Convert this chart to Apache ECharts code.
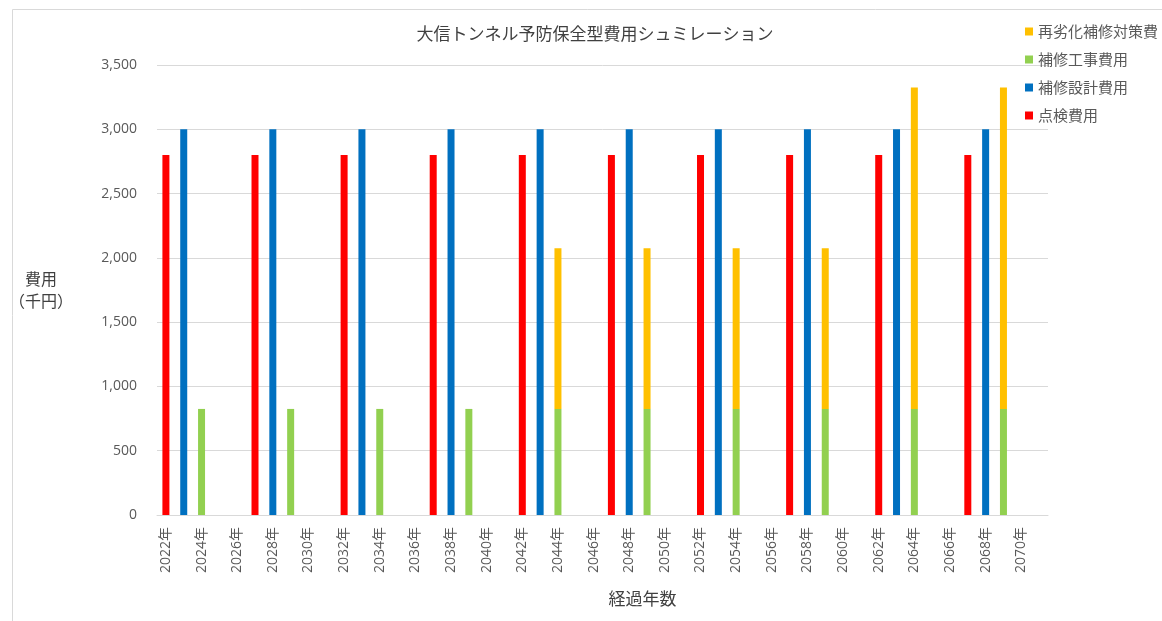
<!DOCTYPE html>
<html>
<head>
<meta charset="utf-8">
<script src="https://cdn.jsdelivr.net/npm/echarts@6/dist/echarts.min.js"></script>
<style>
html,body{margin:0;padding:0;background:#fff;}
#main{width:1162px;height:621px;}
</style>
</head>
<body>
<div id="main"></div>
<script>
const years = ['2022年','2023年','2024年','2025年','2026年','2027年','2028年','2029年','2030年','2031年',
  '2032年','2033年','2034年','2035年','2036年','2037年','2038年','2039年','2040年','2041年',
  '2042年','2043年','2044年','2045年','2046年','2047年','2048年','2049年','2050年','2051年',
  '2052年','2053年','2054年','2055年','2056年','2057年','2058年','2059年','2060年','2061年',
  '2062年','2063年','2064年','2065年','2066年','2067年','2068年','2069年','2070年','2071年'];

// 点検費用
const inspection = [2800,null,null,null,null,2800,null,null,null,null,
  2800,null,null,null,null,2800,null,null,null,null,
  2800,null,null,null,null,2800,null,null,null,null,
  2800,null,null,null,null,2800,null,null,null,null,
  2800,null,null,null,null,2800,null,null,null,null];
// 補修設計費用
const design = [null,3000,null,null,null,null,3000,null,null,null,
  null,3000,null,null,null,null,3000,null,null,null,
  null,3000,null,null,null,null,3000,null,null,null,
  null,3000,null,null,null,null,3000,null,null,null,
  null,3000,null,null,null,null,3000,null,null,null];
// 補修工事費用
const repair = [null,null,825,null,null,null,null,825,null,null,
  null,null,825,null,null,null,null,825,null,null,
  null,null,825,null,null,null,null,825,null,null,
  null,null,825,null,null,null,null,825,null,null,
  null,null,825,null,null,null,null,825,null,null];
// 再劣化補修対策費
const reRepair = [null,null,null,null,null,null,null,null,null,null,
  null,null,null,null,null,null,null,null,null,null,
  null,null,1250,null,null,null,null,1250,null,null,
  null,null,1250,null,null,null,null,1250,null,null,
  null,null,2500,null,null,null,null,2500,null,null];

const yTicks = {min:0, max:3500, interval:500};

const chart = echarts.init(document.getElementById('main'));
const txt = '#595959';
const sans = '"Open Sans","Noto Sans CJK JP",sans-serif';
const jp = '"Noto Sans CJK JP",sans-serif';

chart.setOption({
  animation:false,
  backgroundColor:'#fff',
  graphic:[{
    type:'rect', left:10, top:7, silent:true,
    shape:{x:0.5,y:0.5,width:1200,height:612},
    style:{fill:'none', stroke:'#d9d9d9', lineWidth:1}
  }],
  title:{
    text:'大信トンネル予防保全型費用シュミレーション',
    left:590, top:20, textAlign:'center',
    textStyle:{fontFamily:jp, fontSize:17, fontWeight:'normal', color:'#404040'}
  },
  legend:{
    orient:'vertical', left:1020, top:18,
    itemWidth:8, itemHeight:8, itemGap:11, icon:'rect',
    data:['再劣化補修対策費','補修工事費用','補修設計費用','点検費用'],
    textStyle:{fontFamily:jp, fontSize:15, color:txt, lineHeight:17}
  },
  grid:{left:157, right:114, top:65, bottom:106, containLabel:false, outerBoundsMode:'none'},
  xAxis:{
    type:'category', data:years,
    name:'経過年数', nameLocation:'middle', nameGap:75,
    nameTextStyle:{fontFamily:jp, fontSize:17, color:'#404040', padding:[0,0,0,80]},
    axisLine:{lineStyle:{color:'#d9d9d9'}},
    axisTick:{show:false},
    axisLabel:{interval:1, rotate:90, margin:12, fontFamily:sans, fontSize:14, color:txt}
  },
  yAxis:{
    type:'value', min:yTicks.min, max:yTicks.max, interval:yTicks.interval,
    name:'費用\n（千円）', nameLocation:'middle', nameRotate:0, nameGap:116,
    nameTextStyle:{fontFamily:jp, fontSize:16, color:'#404040', lineHeight:22, align:'center', padding:[20,0,0,0]},
    axisLine:{show:false}, axisTick:{show:false},
    splitLine:{lineStyle:{color:'#d9d9d9'}},
    axisLabel:{margin:20, fontFamily:sans, fontSize:14, color:txt,
      formatter:v=>v.toLocaleString('en-US')}
  },
  series:[
    {name:'点検費用', type:'bar', stack:'t', data:inspection, barWidth:7, itemStyle:{color:'#FF0000'}},
    {name:'補修設計費用', type:'bar', stack:'t', data:design, barWidth:7, itemStyle:{color:'#0070C0'}},
    {name:'補修工事費用', type:'bar', stack:'t', data:repair, barWidth:7, itemStyle:{color:'#92D050'}},
    {name:'再劣化補修対策費', type:'bar', stack:'t', data:reRepair, barWidth:7, itemStyle:{color:'#FFC000'}}
  ]
});
</script>
</body>
</html>
